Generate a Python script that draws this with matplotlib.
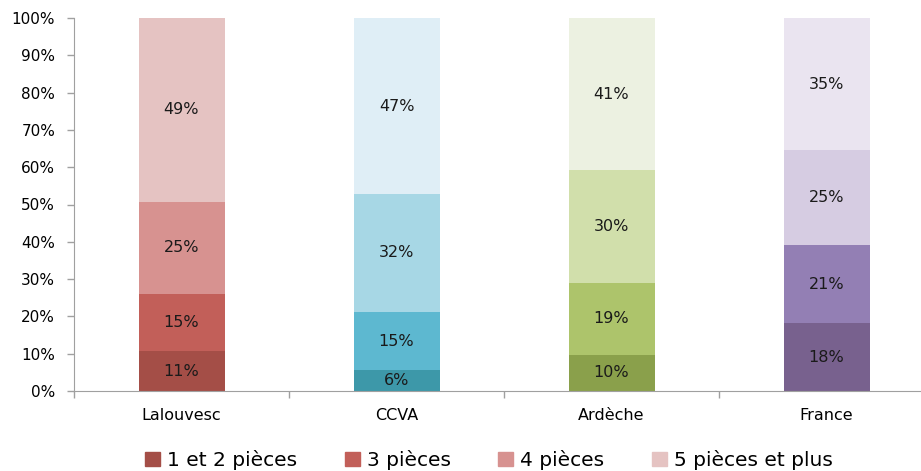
import numpy as np
import matplotlib.pyplot as plt
from matplotlib.patches import Patch

categories = ['Lalouvesc', 'CCVA', 'Ardèche', 'France']
series = ['1 et 2 pièces', '3 pièces', '4 pièces', '5 pièces et plus']
values = {
    'Lalouvesc': [10.7, 15.3, 24.7, 49.3],
    'CCVA': [5.6, 15.6, 31.6, 47.2],
    'Ardèche': [9.7, 19.3, 30.2, 40.8],
    'France': [18.2, 20.9, 25.5, 35.4],
}
labels = {
    'Lalouvesc': ['11%', '15%', '25%', '49%'],
    'CCVA': ['6%', '15%', '32%', '47%'],
    'Ardèche': ['10%', '19%', '30%', '41%'],
    'France': ['18%', '21%', '25%', '35%'],
}
colors = {
    'Lalouvesc': ['#A44E47', '#C25F59', '#D79290', '#E5C3C2'],
    'CCVA': ['#3D98A9', '#5DB8D0', '#A7D7E5', '#DFEEF6'],
    'Ardèche': ['#8AA04B', '#ADC46B', '#D1DFAB', '#ECF1E1'],
    'France': ['#78618E', '#937FB4', '#D6CCE2', '#EAE4F0'],
}

plt.rcParams['font.family'] = ['DejaVu Sans']

fig = plt.figure(figsize=(9.21, 4.71), dpi=100)
ax = fig.add_axes([74 / 921, (471 - 391) / 471, 860 / 921, 373 / 471])

for i, cat in enumerate(categories):
    bottom = 0
    for v, lab, c in zip(values[cat], labels[cat], colors[cat]):
        ax.bar(i, v, bottom=bottom, width=0.4, color=c, linewidth=0)
        ax.text(i, bottom + v / 2, lab, ha='center', va='center',
                fontsize=11.5, color='#1a1a1a')
        bottom += v

ax.set_xlim(-0.5, 3.5)
ax.set_ylim(0, 100)
ax.set_yticks(np.arange(0, 101, 10))
ax.set_yticklabels([f'{t}%' for t in range(0, 101, 10)], fontsize=11)
ax.set_xticks(range(4))
ax.set_xticklabels(categories, fontsize=11.5)
ax.set_xticks(np.arange(-0.5, 4, 1), minor=True)
ax.tick_params(axis='x', which='major', length=0, pad=12)
ax.tick_params(axis='x', which='minor', length=5, color='#a0a0a0', width=1)
ax.tick_params(axis='y', length=5, color='#a0a0a0', width=1, pad=8.5)

for s in ['top', 'right']:
    ax.spines[s].set_visible(False)
for s in ['left', 'bottom']:
    ax.spines[s].set_color('#a0a0a0')

handles = [Patch(color=c) for c in colors['Lalouvesc']]
fig.legend(handles, series, loc='center', bbox_to_anchor=(489 / 921, 1 - 460 / 471),
           ncol=4, frameon=False, fontsize=14.5, handlelength=0.75, handleheight=0.7,
           handletextpad=0.35, columnspacing=2.35)

fig.savefig('out.png', dpi=100)
